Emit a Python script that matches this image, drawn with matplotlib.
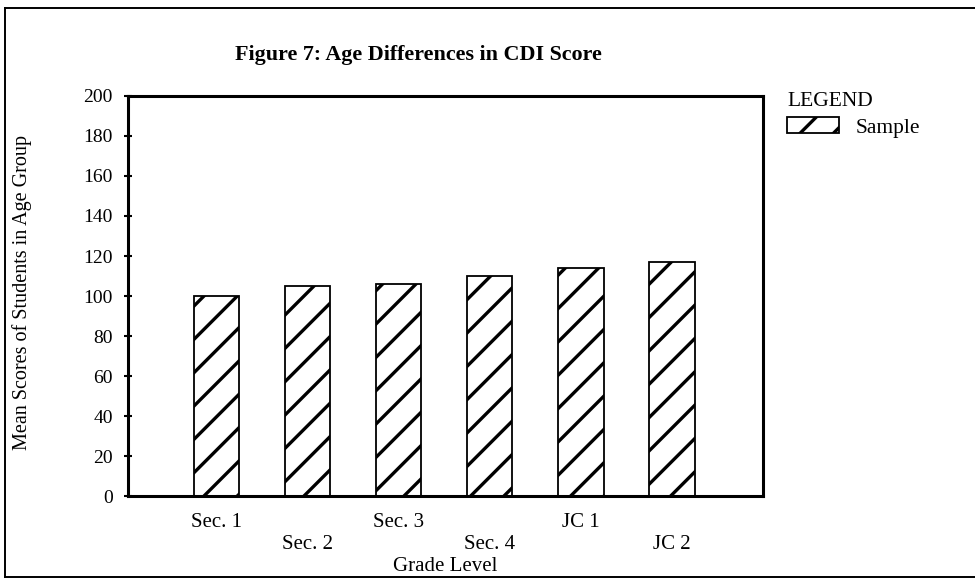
import matplotlib
matplotlib.use('Agg')
import matplotlib.pyplot as plt
from matplotlib.lines import Line2D

# data
grades = ['Sec. 1', 'Sec. 2', 'Sec. 3', 'Sec. 4', 'JC 1', 'JC 2']
mean_scores = [100, 105, 106, 110, 114, 117]
y_ticks = [0, 20, 40, 60, 80, 100, 120, 140, 160, 180, 200]

plt.rcParams['font.family'] = ['Liberation Serif', 'DejaVu Serif']
plt.rcParams['hatch.linewidth'] = 2.4
plt.rcParams['hatch.color'] = 'black'

fig = plt.figure(figsize=(9.75, 5.8), dpi=100)
ax = fig.add_axes([0.1313, 0.1448, 0.6513, 0.6897])

x = list(range(len(grades)))
bars = ax.bar(x, mean_scores, width=0.5, color='white', edgecolor='black',
              linewidth=1.3, hatch='/', label='Sample')

ax.set_xlim(-0.97, 6.0)
ax.set_ylim(0, 200)
ax.set_yticks(y_ticks)
ax.set_yticklabels([str(v) for v in y_ticks])

# staggered grade labels
ax.set_xticks(x)
ax.set_xticklabels([g if i % 2 == 0 else '\n' + g for i, g in enumerate(grades)],
                   linespacing=1.25)
ax.tick_params(axis='x', length=0, pad=12, labelsize=15)
ax.tick_params(axis='y', direction='inout', length=6, width=1.5, pad=8, labelsize=14)

for s in ax.spines.values():
    s.set_linewidth(2.2)

ax.set_ylabel('Mean Scores of Students in Age Group', fontsize=14.5)
ax.yaxis.set_label_coords(-0.151, 0.51)
ax.set_xlabel('Grade Level', fontsize=15, va='top')
ax.xaxis.set_label_coords(0.5, -0.152)

fig.text(418 / 975, 1 - 55 / 580, 'Figure 7: Age Differences in CDI Score',
         ha='center', va='center', fontsize=15.8, fontweight='bold')

leg = ax.legend(handles=[bars], labels=['Sample'], title='LEGEND',
                loc='upper left', bbox_to_anchor=(787 / 975, 1 - 92 / 580),
                bbox_transform=fig.transFigure, frameon=False, fontsize=15.5,
                title_fontsize=15.5, handlelength=2.4, handleheight=0.75,
                borderpad=0, borderaxespad=0, handletextpad=0.8,
                labelspacing=0.3, alignment='left')

# frame around the whole figure, as in the scan
frame = dict(transform=fig.transFigure, color='black', linewidth=1.4)
fig.add_artist(Line2D([0.005, 1.0], [0.986, 0.986], **frame))
fig.add_artist(Line2D([0.005, 0.005], [0.005, 0.986], **frame))
fig.add_artist(Line2D([0.005, 1.0], [0.005, 0.005], **frame))

fig.savefig('out.png', dpi=100)
